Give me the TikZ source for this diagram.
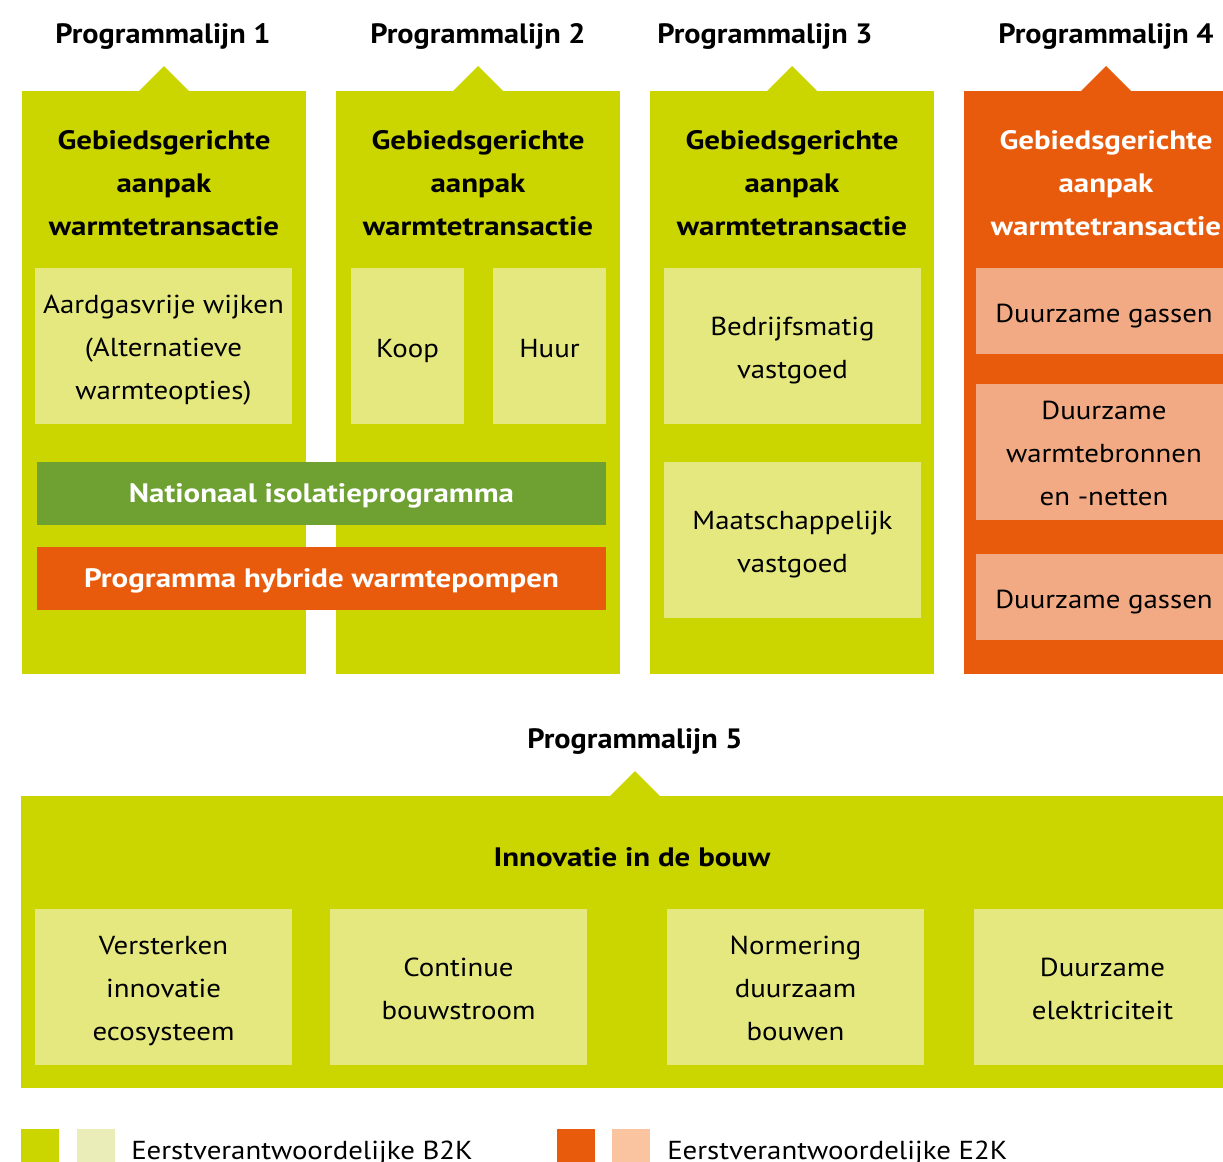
\documentclass[tikz,border=0pt]{standalone}
\usepackage{fontspec}
\setmainfont{PT Sans}[FakeStretch=1.11]
\newfontfamily\titlefont{PT Sans}[FakeStretch=1.16]
\newfontfamily\headfont{PT Sans}[FakeStretch=1.08]
\definecolor{lime}{HTML}{CBD500}
\definecolor{limelight}{HTML}{E4E87F}
\definecolor{limepale}{HTML}{EBEDB8}
\definecolor{oranje}{HTML}{E95B0C}
\definecolor{oranjelight}{HTML}{F2AA84}
\definecolor{oranjepale}{HTML}{FBC4A1}
\definecolor{groen}{HTML}{6EA032}
\tikzset{
  sz/.style 2 args={minimum width=#1*0.75pt, minimum height=#2*0.75pt},
  block/.style={rectangle, inner sep=0pt, outer sep=0pt},
  strutted/.style={execute at begin node=\strut, execute at end node=\strut},
  column/.style={block, fill=lime},
  subbox/.style={block, fill=limelight},
  subboxo/.style={block, fill=oranjelight},
  boxtext/.style={inner sep=0pt, align=center, strutted,
    font=\fontsize{19.5}{32.25}\selectfont},
  oneline/.style={boxtext, yshift=-2.25pt},
  multiline/.style={boxtext, yshift=-6pt},
  bar/.style={block, text=white, strutted,
    font=\titlefont\fontsize{20}{32.25}\selectfont\bfseries},
  heading/.style={inner sep=0pt, anchor=base,
    font=\headfont\fontsize{21}{24}\selectfont\bfseries},
  coltitle/.style={inner sep=0pt, align=center, strutted,
    font=\titlefont\fontsize{20}{32.25}\selectfont\bfseries},
  legendtxt/.style={inner sep=0pt, anchor=base west,
    font=\fontsize{19.5}{24}\selectfont},
}
\begin{document}
\begin{tikzpicture}[x=0.75pt,y=-0.75pt]
\useasboundingbox (0,0) rectangle (1223,1161);
\clip (0,0) rectangle (1223,1161);

% programme line headings
\node[heading] (h1) at (163,43) {Programmalijn 1};
\node[heading] (h2) at (478,43) {Programmalijn 2};
\node[heading] (h3) at (765,43) {Programmalijn 3};
\node[heading] (h4) at (1106,43) {Programmalijn 4};

% the four columns with their pointer triangles
\node[column, sz={284}{583}] (c1) at (164,382.5) {};
\node[column, sz={284}{583}] (c2) at (478,382.5) {};
\node[column, sz={284}{583}] (c3) at (792,382.5) {};
\node[column, sz={284}{583}, fill=oranje] (c4) at (1106,382.5) {};
\foreach \c/\col in {c1/lime, c2/lime, c3/lime, c4/oranje}
  \fill[\col] ([xshift=-25*0.75pt]\c.north) -- ++(25,-25) -- ++(25,25) -- cycle;

% column titles
\foreach \c/\x in {c1/164, c2/478, c3/792}
  \node[coltitle] (t\c) at (\x,189) {Gebiedsgerichte\\aanpak\\warmtetransactie};
\node[coltitle, text=white] (tc4) at (1106,189) {Gebiedsgerichte\\aanpak\\warmtetransactie};

% column 1
\node[subbox, sz={257}{156}] (aard) at (163.5,346) {};
\node[multiline] (aard-t) at (aard.center) {Aardgasvrije wijken\\(Alternatieve\\warmteopties)};
% column 2
\node[subbox, sz={113}{156}] (koop) at (407.5,346) {};
\node[oneline] (koop-t) at (koop.center) {Koop};
\node[subbox, sz={113}{156}] (huur) at (549.5,346) {};
\node[oneline] (huur-t) at (huur.center) {Huur};
% column 3
\node[subbox, sz={257}{156}] (bedr) at (792.5,346) {};
\node[multiline] (bedr-t) at (bedr.center) {Bedrijfsmatig\\vastgoed};
\node[subbox, sz={257}{156}] (maat) at (792.5,540) {};
\node[multiline] (maat-t) at (maat.center) {Maatschappelijk\\vastgoed};
% column 4
\node[subboxo, sz={257}{86}] (gas1) at (1104,311) {};
\node[oneline] (gas1-t) at (gas1.center) {Duurzame gassen};
\node[subboxo, sz={257}{136}] (warm) at (1104,452) {};
\node[multiline] (warm-t) at (warm.center) {Duurzame\\warmtebronnen\\en -netten};
\node[subboxo, sz={257}{86}] (gas2) at (1104,597) {};
\node[oneline] (gas2-t) at (gas2.center) {Duurzame gassen};

% bars spanning columns 1 and 2
\node[bar, fill=groen, sz={569}{63}] (nip) at (321.5,493.5) {Nationaal isolatieprogramma};
\node[bar, fill=oranje, sz={569}{63}] (hwp) at (321.5,578.5) {Programma hybride warmtepompen};

% programme line 5
\node[heading] (h5) at (635,748) {Programmalijn 5};
\node[column, sz={1228}{292}] (c5) at (635,942) {};
\fill[lime] ([xshift=-25*0.75pt]c5.north) -- ++(25,-25) -- ++(25,25) -- cycle;
\node[heading, font=\titlefont\fontsize{20}{24}\selectfont\bfseries] (t5) at (632,866) {Innovatie in de bouw};
\node[subbox, sz={257}{156}] (b1) at (163.5,987) {};
\node[multiline] (b1-t) at (b1.center) {Versterken\\innovatie\\ecosysteem};
\node[subbox, sz={257}{156}] (b2) at (458.5,987) {};
\node[multiline] (b2-t) at (b2.center) {Continue\\bouwstroom};
\node[subbox, sz={257}{156}] (b3) at (795.5,987) {};
\node[multiline] (b3-t) at (b3.center) {Normering\\duurzaam\\bouwen};
\node[subbox, sz={257}{156}] (b4) at (1102.5,987) {};
\node[multiline] (b4-t) at (b4.center) {Duurzame\\elektriciteit};

% legend
\node[block, fill=lime, sz={38}{38}, anchor=north west] (l1) at (21,1129) {};
\node[block, fill=limepale, sz={38}{38}, anchor=north west] (l2) at (77,1129) {};
\node[legendtxt] (lt1) at (131,1159) {Eerstverantwoordelijke B2K};
\node[block, fill=oranje, sz={38}{38}, anchor=north west] (l3) at (557,1129) {};
\node[block, fill=oranjepale, sz={38}{38}, anchor=north west] (l4) at (612,1129) {};
\node[legendtxt] (lt2) at (667,1159) {Eerstverantwoordelijke E2K};
\end{tikzpicture}
\end{document}
